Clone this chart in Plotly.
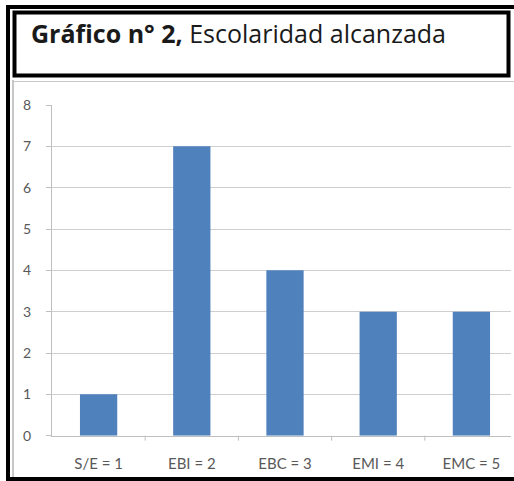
import plotly.graph_objects as go

categories = ["S/E = 1", "EBI = 2", "EBC = 3", "EMI = 4", "EMC = 5"]
values = [1, 7, 4, 3, 3]
y_ticks = [0, 1, 2, 3, 4, 5, 6, 7, 8]

W, H = 514, 481

def px_x(x):
    return x / W

def px_y(y):
    return 1 - y / H

fig = go.Figure()
fig.add_trace(go.Bar(
    x=list(range(len(categories))), y=values,
    marker=dict(color="#4F81BD", line=dict(width=0)),
    width=0.4,
))

plot_left, plot_right = 52, 511
plot_top, plot_bottom = 105, 435.7
cat_w = 93.2
x_max = -0.5 + (plot_right - plot_left) / cat_w

fig.update_layout(
    width=W, height=H,
    margin=dict(l=0, r=0, t=0, b=0, pad=0, autoexpand=False),
    paper_bgcolor="white", plot_bgcolor="white",
    showlegend=False,
    font=dict(family="Lato", color="#595959"),
    xaxis=dict(
        domain=[px_x(plot_left), px_x(plot_right)],
        range=[-0.5, x_max],
        automargin=False,
        tickmode="array",
        tickvals=list(range(len(categories))),
        ticktext=categories,
        showgrid=False,
        showline=True, linecolor="#BFBFBF", linewidth=1,
        ticks="", tickfont=dict(size=15, color="#595959"),
        ticklabelstandoff=14,
        zeroline=False,
    ),
    yaxis=dict(
        domain=[px_y(plot_bottom), px_y(plot_top)],
        range=[0, 8],
        automargin=False,
        tickmode="array", tickvals=y_ticks,
        showgrid=True, gridcolor="#CFCFCF", gridwidth=1,
        showline=True, linecolor="#BFBFBF", linewidth=1,
        ticks="outside", ticklen=5, tickcolor="#BFBFBF",
        tickfont=dict(size=14, color="#595959"),
        ticklabelstandoff=12,
        zeroline=False,
    ),
)

shapes = []
for i in range(len(categories)):
    xb = -0.5 + i + 1
    shapes.append(dict(type="line", xref="x", yref="paper",
                       x0=xb, x1=xb, y0=px_y(plot_bottom), y1=px_y(plot_bottom + 5),
                       line=dict(color="#BFBFBF", width=1)))

shapes.append(dict(type="line", xref="paper", yref="paper",
                   x0=px_x(12), x1=1, y0=px_y(81.5), y1=px_y(81.5),
                   line=dict(color="#C8C8C8", width=1)))
shapes.append(dict(type="line", xref="paper", yref="paper",
                   x0=px_x(13), x1=px_x(13), y0=px_y(80), y1=px_y(477),
                   line=dict(color="#C8C8C8", width=2)))
shapes.append(dict(type="line", xref="paper", yref="paper",
                   x0=px_x(6), x1=1, y0=px_y(7), y1=px_y(7),
                   line=dict(color="black", width=4)))
shapes.append(dict(type="line", xref="paper", yref="paper",
                   x0=px_x(8), x1=px_x(8), y0=px_y(5), y1=px_y(481),
                   line=dict(color="black", width=4)))
shapes.append(dict(type="line", xref="paper", yref="paper",
                   x0=px_x(6), x1=1, y0=px_y(479), y1=px_y(479),
                   line=dict(color="black", width=4)))
shapes.append(dict(type="rect", xref="paper", yref="paper",
                   x0=px_x(14.5), x1=px_x(508.5), y0=px_y(75.5), y1=px_y(12.5),
                   line=dict(color="black", width=4), fillcolor="white"))

fig.update_layout(shapes=shapes)

fig.add_annotation(
    xref="paper", yref="paper", x=px_x(29), y=px_y(33),
    xanchor="left", yanchor="middle", showarrow=False,
    text="<b>Gráfico n° 2,</b> Escolaridad alcanzada",
    font=dict(family="Open Sans", size=25, color="#1a1a1a"),
)

post = (
    "document.documentElement.style.margin='0';"
    "document.body.style.margin='0';"
    "document.body.style.overflow='hidden';"
)
fig.write_html("out.html", config={"displayModeBar": False}, post_script=post)
